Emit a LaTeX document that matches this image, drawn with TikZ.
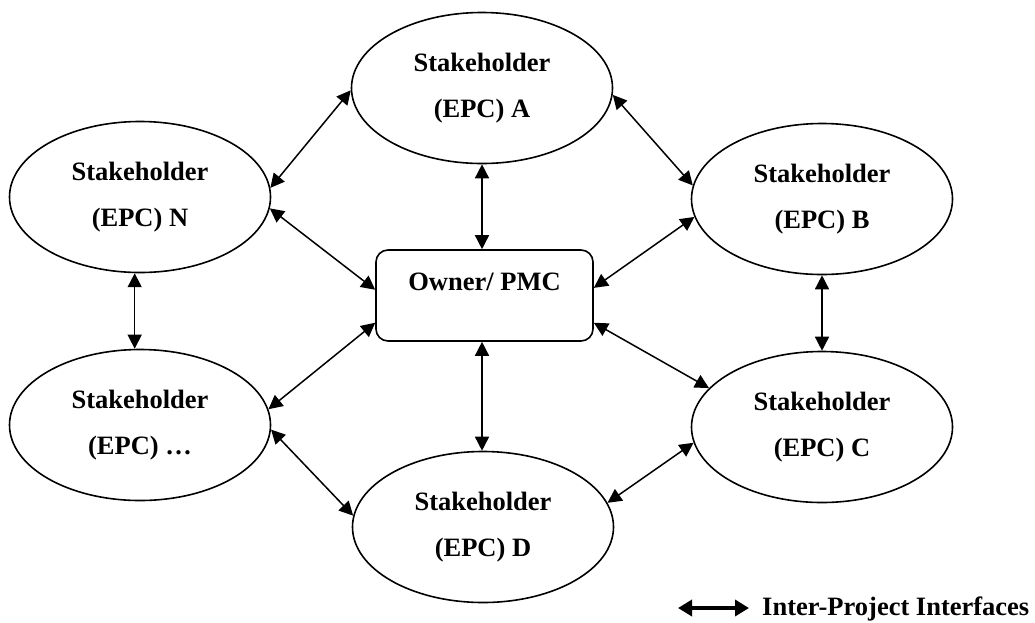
\documentclass[tikz,border=0pt]{standalone}
\usepackage{fontspec}
\setmainfont{Liberation Serif}
\usetikzlibrary{arrows.meta,shapes.geometric,calc}
\begin{document}
\begin{tikzpicture}[x=1pt,y=-1pt,
  party/.style={ellipse,draw,line width=1.6pt,minimum width=261pt,minimum height=151pt,
    inner sep=0pt,align=center,font=\bfseries\fontsize{26.5}{46}\selectfont},
  hub/.style={draw,line width=1.6pt,rounded corners=12pt,minimum width=217pt,
    minimum height=91pt,inner sep=0pt},
  lbl/.style={font=\bfseries\fontsize{26.5}{32}\selectfont,inner sep=0pt},
  link/.style={line width=1.5pt,
    {Triangle[length=14pt,width=14pt]}-{Triangle[length=14pt,width=14pt]}},
  keylink/.style={line width=4pt,
    {Triangle[length=14pt,width=16pt]}-{Triangle[length=14pt,width=16pt]}}
]
\useasboundingbox (0,0) rectangle (1035,622);

% stakeholders around the owner
\node[party] (A)    at (482,88)  {Stakeholder\\(EPC) A};
\node[party] (N)    at (140,197) {Stakeholder\\(EPC) N};
\node[party] (B)    at (822,199) {Stakeholder\\(EPC) B};
\node[party] (dots) at (140,425) {Stakeholder\\(EPC) \dots};
\node[party] (C)    at (822,427) {Stakeholder\\(EPC) C};
\node[party] (D)    at (483,527) {Stakeholder\\(EPC) D};

% owner / PMC box
\node[hub] (pmc) at (484.5,295.5) {};
\node[lbl] (pmctext) at (484.5,282) {Owner/ PMC};

% interfaces
\draw[link] (N.4) -- (A.181);
\draw[link] (A.357) -- (B.174);
\draw[link] (A.south) -- (A.south |- pmc.north);
\draw[link] (N.355) -- (pmc.177);
\draw[link] (pmc.4) -- (B.188);
\draw[link] (dots.7) -- (pmc.194);
\draw[link] (pmc.346) -- (C.161);
\draw[link] (N.266) -- (N.266 |- dots.north);
\draw[link] (B.south) -- (C.north);
\draw[link] (A.south |- pmc.south) -- (A.south |- D.north);
\draw[link] (dots.358) -- (D.175);
\draw[link] (C.187) -- (D.11);

% legend
\coordinate (keyL) at (678,608);
\coordinate (keyR) at (749,608);
\draw[keylink] (keyL) -- (keyR);
\node[lbl,anchor=base west] (keytext) at (762,615.5) {Inter-Project Interfaces};
\end{tikzpicture}
\end{document}
